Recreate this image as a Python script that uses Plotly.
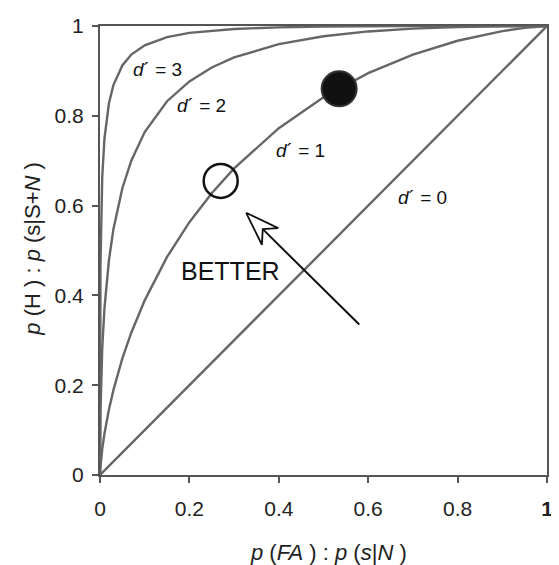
import plotly.graph_objects as go
import math

# ROC curve points
fa_d0 = [0.0, 1.0]
h_d0 = [0.0, 1.0]

fa_d1 = [0.0, 0.0001, 0.001, 0.005, 0.01, 0.02, 0.03, 0.05, 0.07, 0.1, 0.15, 0.2, 0.25, 0.3, 0.4, 0.5, 0.6, 0.7, 0.8, 0.9, 0.95, 1.0]
h_d1 = [0.0, 0.0033, 0.0183, 0.0575, 0.0924, 0.146, 0.189, 0.2595, 0.317, 0.389, 0.4856, 0.563, 0.6276, 0.6828, 0.7724, 0.8413, 0.895, 0.9363, 0.9672, 0.9887, 0.9959, 1.0]

fa_d2 = [0.0, 0.0001, 0.001, 0.005, 0.01, 0.02, 0.03, 0.05, 0.07, 0.1, 0.15, 0.2, 0.25, 0.3, 0.4, 0.5, 0.6, 0.7, 0.8, 0.9, 1.0]
h_d2 = [0.0, 0.0428, 0.1379, 0.2823, 0.372, 0.4785, 0.5474, 0.6387, 0.6999, 0.7638, 0.8325, 0.8767, 0.9075, 0.93, 0.9597, 0.9772, 0.9879, 0.9942, 0.9978, 0.9995, 1.0]

fa_d3 = [0.0, 0.00001, 0.0001, 0.001, 0.005, 0.01, 0.02, 0.03, 0.05, 0.07, 0.1, 0.15, 0.2, 0.3, 0.4, 0.5, 0.7, 1.0]
h_d3 = [0.0, 0.09, 0.236, 0.4641, 0.6642, 0.7498, 0.828, 0.8684, 0.9123, 0.9363, 0.9571, 0.9752, 0.9846, 0.9934, 0.997, 0.99865, 0.9997, 1.0]

open_pt = (0.27, 0.655)
filled_pt = (0.535, 0.86)

labels = ["3", "2", "1", "0"]
label_x = [0.128, 0.227, 0.448, 0.722]
label_y = [0.904, 0.823, 0.722, 0.619]

arrow_tip = (0.327, 0.584)
arrow_tail = (0.580, 0.335)

xticks = [0, 0.2, 0.4, 0.6, 0.8, 1]
xtick_text = ["0", "0.2", "0.4", "0.6", "0.8", "<b>1</b>"]
yticks = [0, 0.2, 0.4, 0.6, 0.8, 1]
ytick_text = ["0", "0.2", "0.4", "0.6", "0.8", "1"]

curve_color = "#666666"
FONT = "Liberation Sans, Arial"
fig = go.Figure()
for fx, fy in [(fa_d0, h_d0), (fa_d1, h_d1), (fa_d2, h_d2), (fa_d3, h_d3)]:
    fig.add_trace(go.Scatter(x=fx, y=fy, mode="lines",
                             line=dict(color=curve_color, width=2.4),
                             showlegend=False, hoverinfo="skip"))

fig.add_trace(go.Scatter(x=[open_pt[0]], y=[open_pt[1]], mode="markers",
                         marker=dict(size=34, color="rgba(0,0,0,0)",
                                     line=dict(color="#111111", width=2.5)),
                         showlegend=False))
fig.add_trace(go.Scatter(x=[filled_pt[0]], y=[filled_pt[1]], mode="markers",
                         marker=dict(size=35, color="#111111",
                                     line=dict(color="#333333", width=2)),
                         showlegend=False))

# arrow shaft + open arrowhead
dx = arrow_tip[0] - arrow_tail[0]
dy = arrow_tip[1] - arrow_tail[1]
L = math.hypot(dx, dy)
ux, uy = dx / L, dy / L
px, py = -uy, ux
head_len = 0.075
notch_len = 0.052
half_w = 0.026
tx, ty = arrow_tip
bx, by = tx - ux * head_len, ty - uy * head_len
nx, ny = tx - ux * notch_len, ty - uy * notch_len
head_x = [tx, bx + px * half_w, nx, bx - px * half_w, tx]
head_y = [ty, by + py * half_w, ny, by - py * half_w, ty]
fig.add_trace(go.Scatter(x=[arrow_tail[0], nx], y=[arrow_tail[1], ny], mode="lines",
                         line=dict(color="#111111", width=2), showlegend=False))
fig.add_trace(go.Scatter(x=head_x, y=head_y, mode="lines", fill="toself",
                         fillcolor="white", line=dict(color="#111111", width=1.8),
                         showlegend=False))

for t, x, y in zip(labels, label_x, label_y):
    fig.add_annotation(x=x, y=y, text="<i>d</i>\u00b4 = " + t, showarrow=False,
                       font=dict(family=FONT, size=19, color="#111111"))
fig.add_annotation(x=0.291, y=0.455, text="BETTER", showarrow=False,
                   font=dict(family=FONT, size=25, color="#111111"))

# axis titles
fig.add_annotation(xref="paper", yref="paper", x=0.512, y=0, yshift=-77,
                   xanchor="center", yanchor="middle", showarrow=False,
                   text="<i>p</i> (<i>FA</i> ) : <i>p</i> (<i>s</i>|<i>N</i> )",
                   font=dict(family=FONT, size=22, color="#222222"))
fig.add_annotation(xref="paper", yref="paper", x=0, xshift=-67, y=0.504,
                   xanchor="center", yanchor="middle", showarrow=False, textangle=-90,
                   text="<i>p</i> (H ) : <i>p</i> (s|S+<i>N</i> )",
                   font=dict(family=FONT, size=22, color="#222222"))

axis_common = dict(range=[0, 1], showgrid=False, zeroline=False, showline=True,
                   linecolor="#555555", linewidth=2, mirror=True,
                   ticks="outside", ticklen=6, tickwidth=1.5, tickcolor="#555555",
                   ticklabeloverflow="allow",
                   tickfont=dict(family=FONT, size=21, color="#222222"))
fig.update_xaxes(**axis_common, tickvals=xticks, ticktext=xtick_text, ticklabelstandoff=8)
fig.update_yaxes(**axis_common, tickvals=yticks, ticktext=ytick_text, ticklabelstandoff=4)
fig.update_layout(width=551, height=557, plot_bgcolor="white", paper_bgcolor="white",
                  margin=dict(l=92, r=6, t=10, b=90), showlegend=False)
fig.write_html("out.html")
